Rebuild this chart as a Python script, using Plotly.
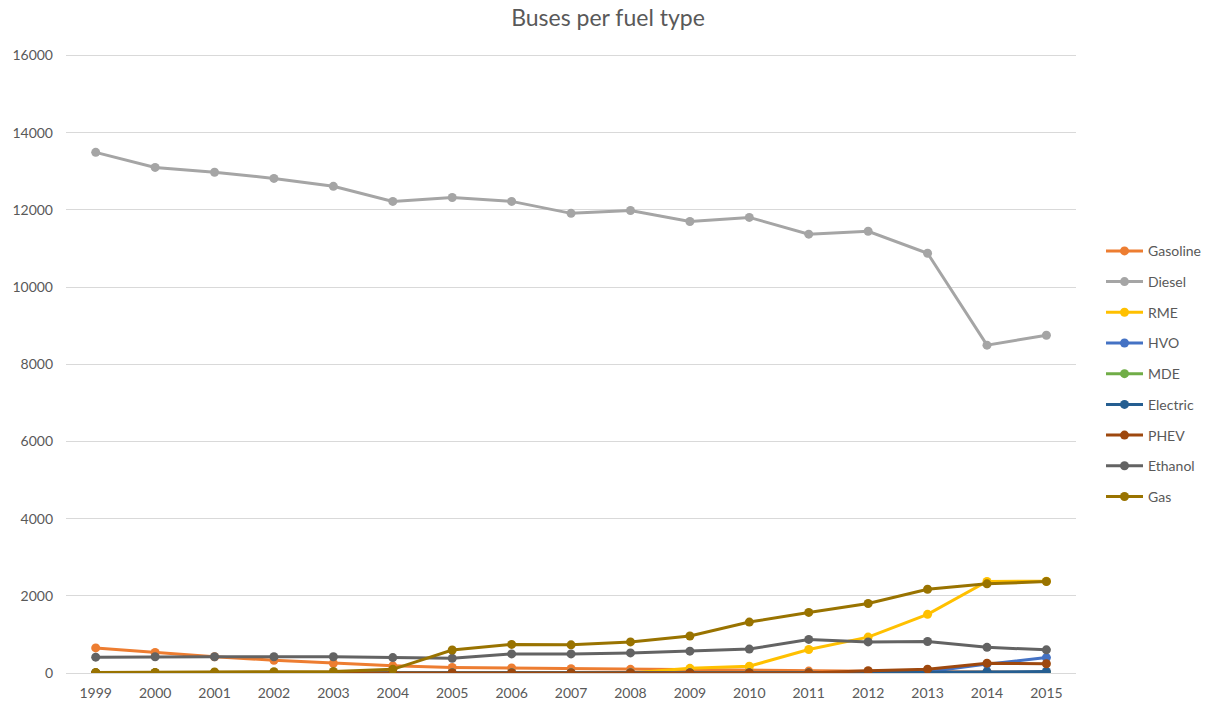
import plotly.graph_objects as go

years = [str(y) for y in range(1999, 2016)]

gasoline = [650, 530, 420, 330, 250, 185, 145, 130, 110, 95, 75, 60, 50, 40, 30, 25, 20]
diesel = [13490, 13100, 12975, 12815, 12610, 12220, 12320, 12220, 11910, 11985, 11700, 11805, 11370, 11445, 10875, 8495, 8750]
rme = [0, 0, 0, 0, 0, 0, 0, 0, 0, 0, 120, 175, 610, 930, 1520, 2370, 2380]
hvo = [0, 0, 0, 0, 0, 0, 0, 0, 0, 0, 0, 0, 0, 0, 30, 230, 400]
mde = [0, 0, 0, 0, 0, 0, 0, 0, 0, 0, 0, 0, 0, 0, 0, 0, 0]
electric = [0, 0, 0, 0, 0, 0, 0, 0, 0, 0, 0, 0, 0, 10, 20, 35, 40]
phev = [0, 0, 0, 0, 0, 0, 0, 0, 0, 0, 0, 0, 0, 60, 100, 255, 240]
ethanol = [410, 420, 420, 420, 420, 400, 380, 495, 495, 520, 565, 620, 870, 805, 815, 665, 600]
gas = [10, 15, 25, 35, 40, 95, 595, 740, 730, 805, 960, 1320, 1570, 1800, 2170, 2310, 2370]

y_ticks = list(range(0, 16001, 2000))
y_tick_labels = [str(v) for v in y_ticks]

series = [
    ("Gasoline", gasoline, "#ED7D31"),
    ("Diesel", diesel, "#A5A5A5"),
    ("RME", rme, "#FFC000"),
    ("HVO", hvo, "#4472C4"),
    ("MDE", mde, "#70AD47"),
    ("Electric", electric, "#255E91"),
    ("PHEV", phev, "#9E480E"),
    ("Ethanol", ethanol, "#636363"),
    ("Gas", gas, "#997300"),
]

font_family = "Lato, 'Open Sans', sans-serif"
text_color = "#595959"
grid_color = "#D9D9D9"

# plot area in pixels: left 66, right ~1078, top ~54, bottom 673
W, H = 1207, 702
ml, mr, mt, mb = 66, 0, 53, 29
inner_w = W - ml - mr
x_end = (1077 - ml) / inner_w
legend_x = (1102 - ml) / inner_w
# headroom above the top tick so its gridline is drawn
y_top = 16000 * (673 - mt) / (673 - 55.5)

fig = go.Figure()
for name, values, color in series:
    fig.add_trace(go.Scatter(
        x=years,
        y=values,
        name=name,
        legendgroup=name,
        mode="lines+markers",
        line=dict(color=color, width=3),
        marker=dict(color=color, size=9),
    ))

fig.update_layout(
    width=W,
    height=H,
    paper_bgcolor="white",
    plot_bgcolor="white",
    margin=dict(l=ml, r=mr, t=mt, b=mb),
    font=dict(family=font_family, size=14, color=text_color),
    title=dict(
        text="Buses per fuel type",
        font=dict(family=font_family, size=23, color=text_color),
        x=608 / W,
        xanchor="center",
        y=0.974,
        yanchor="middle",
    ),
    showlegend=True,
    legend=dict(
        x=legend_x,
        xanchor="left",
        y=0.4826,
        yanchor="middle",
        tracegroupgap=9.5,
        itemwidth=37,
        font=dict(family=font_family, size=14, color=text_color),
        bgcolor="rgba(0,0,0,0)",
    ),
    xaxis=dict(
        type="category",
        domain=[0, x_end],
        range=[-0.5, 16.5],
        automargin=False,
        showgrid=False,
        showline=True,
        linecolor=grid_color,
        linewidth=1,
        ticks="",
        ticklabelstandoff=7,
        tickfont=dict(family=font_family, size=14, color=text_color),
        fixedrange=True,
    ),
    yaxis=dict(
        range=[0, y_top],
        tickvals=y_ticks,
        ticktext=y_tick_labels,
        automargin=False,
        showgrid=True,
        gridcolor=grid_color,
        gridwidth=1,
        zeroline=False,
        showline=False,
        ticks="",
        ticklabelstandoff=12,
        tickfont=dict(family=font_family, size=14, color=text_color),
        fixedrange=True,
    ),
)

fig.write_html("out.html")
